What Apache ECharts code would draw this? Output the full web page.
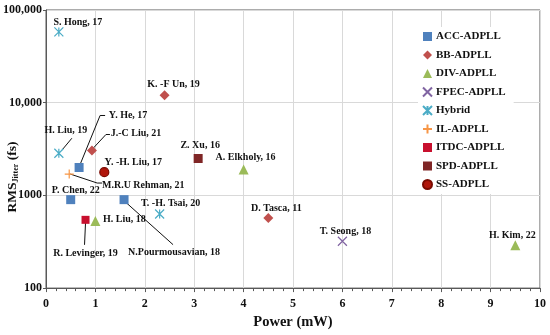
<!DOCTYPE html>
<html><head><meta charset="utf-8">
<script src="https://cdn.jsdelivr.net/npm/echarts@6/dist/echarts.min.js"></script>
<style>html,body{margin:0;padding:0;background:#fff}#c{width:550px;height:335px}</style>
</head><body><div id="c"></div>
<script>
const seriesNames = ['ACC-ADPLL','BB-ADPLL','DIV-ADPLL','FPEC-ADPLL','Hybrid','IL-ADPLL','ITDC-ADPLL','SPD-ADPLL','SS-ADPLL'];
const accX = [0.67, 0.5, 1.58];
const accY = [2000, 900, 900];
const accLabels = ['Y. He, 17', 'P. Chen, 22', 'N.Pourmousavian, 18'];
const bbX = [2.4, 0.93, 4.5];
const bbY = [12000, 3050, 570];
const bbLabels = ['K. -F Un, 19', 'J.-C Liu, 21', 'D. Tasca, 11'];
const divX = [4.0, 1.0, 9.5];
const divY = [1900, 530, 290];
const divLabels = ['A. Elkholy, 16', 'H. Liu, 18', 'H. Kim, 22'];
const fpecX = [6.0];
const fpecY = [320];
const fpecLabels = ['T. Seong, 18'];
const hybridX = [0.26, 0.26, 2.3];
const hybridY = [58000, 2850, 630];
const hybridLabels = ['S. Hong, 17', 'H. Liu, 19', 'T. -H. Tsai, 20'];
const ilX = [0.47];
const ilY = [1700];
const ilLabels = ['M.R.U Rehman, 21'];
const itdcX = [0.8];
const itdcY = [545];
const itdcLabels = ['R. Levinger, 19'];
const spdX = [3.08];
const spdY = [2500];
const spdLabels = ['Z. Xu, 16'];
const ssX = [1.18];
const ssY = [1780];
const ssLabels = ['Y. -H. Liu, 17'];
const xTicks = [0,1,2,3,4,5,6,7,8,9,10];
const yTickLabels = {100:'100', 1000:'1000', 10000:'10,000', 100000:'100,000'};

// label placement (offset of label centre from its marker, px)
const labelOffsets = {
  'S. Hong, 17': [19,-10], 'K. -F Un, 19': [9,-11], 'H. Liu, 19': [7,-23],
  'Y. He, 17': [49,-52], 'J.-C Liu, 21': [44,-17], 'Y. -H. Liu, 17': [29,-10],
  'M.R.U Rehman, 21': [74,11], 'P. Chen, 22': [5,-9], 'Z. Xu, 16': [2,-13],
  'A. Elkholy, 16': [2,-12], 'T. -H. Tsai, 20': [11,-11], 'D. Tasca, 11': [8,-10],
  'T. Seong, 18': [3,-10], 'H. Kim, 22': [-3,-10], 'H. Liu, 18': [29,-2],
  'R. Levinger, 19': [0,34], 'N.Pourmousavian, 18': [50,53]
};
// leader-line polylines, px offsets from the marker they point at
const leaderPaths = {
  'H. Liu, 19': [[3,-3],[13,-15]],
  'Y. He, 17': [[1,-3],[21,-52],[26,-52]],
  'J.-C Liu, 21': [[1,-2],[14,-16],[18,-16]],
  'M.R.U Rehman, 21': [[1,0],[28,9],[33,9]],
  'R. Levinger, 19': [[0,3],[-1,25]],
  'N.Pourmousavian, 18': [[1,2],[49,45]]
};

const FONT = 'Liberation Serif';
const styles = {
  'ACC-ADPLL': {symbol:'rect', size:9, color:'#4F81BD'},
  'BB-ADPLL': {symbol:'diamond', size:10, color:'#C0504D'},
  'DIV-ADPLL': {symbol:'triangle', size:10, color:'#9BBB59'},
  'FPEC-ADPLL': {symbol:'path://M0,0L10,10M10,0L0,10', size:9, color:'transparent', border:'#8064A2'},
  'Hybrid': {symbol:'path://M0,0L10,10M10,0L0,10M5,0L5,10', size:9, color:'transparent', border:'#4BACC6'},
  'IL-ADPLL': {symbol:'path://M5,0L5,10M0,5L10,5', size:9, color:'transparent', border:'#F79646'},
  'ITDC-ADPLL': {symbol:'rect', size:8, color:'#C8102E'},
  'SPD-ADPLL': {symbol:'rect', size:9, color:'#7F2626'},
  'SS-ADPLL': {symbol:'circle', size:9, color:'#B0160B', border:'#7A0A00'}
};
const groups = [
  [accX, accY, accLabels], [bbX, bbY, bbLabels], [divX, divY, divLabels],
  [fpecX, fpecY, fpecLabels], [hybridX, hybridY, hybridLabels], [ilX, ilY, ilLabels],
  [itdcX, itdcY, itdcLabels], [spdX, spdY, spdLabels], [ssX, ssY, ssLabels]
];

const series = seriesNames.map((name, i) => {
  const [xs, ys, labs] = groups[i];
  const st = styles[name];
  return {
    name, type: 'scatter', symbol: st.symbol, symbolSize: st.size, z: 3,
    itemStyle: {color: st.color, borderColor: st.border || st.color, borderWidth: st.border ? 1.2 : 0, opacity: 1},
    label: {show: true, position: 'inside', formatter: p => p.name, color: '#111',
            fontFamily: FONT, fontWeight: 'bold', fontSize: 10},
    labelLayout: p => { const o = labelOffsets[p.text] || [0,0]; return {dx: o[0], dy: o[1], hideOverlap: false}; },
    emphasis: {disabled: true},
    data: xs.map((x, k) => ({value: [x, ys[k]], name: labs[k]}))
  };
});

// leader lines anchored to the same data points, placed through the axes
const leaderData = [];
groups.forEach(([xs, ys, labs]) => labs.forEach((l, k) => {
  if (leaderPaths[l]) leaderData.push({value: [xs[k], ys[k]], name: l});
}));
series.push({
  type: 'custom', name: 'leaders', z: 2, silent: true, coordinateSystem: 'cartesian2d',
  data: leaderData,
  renderItem: (params, api) => {
    const p = api.coord([api.value(0), api.value(1)]);
    const segs = leaderPaths[leaderData[params.dataIndex].name];
    return {type: 'polyline', shape: {points: segs.map(o => [p[0] + o[0], p[1] + o[1]])},
            style: {stroke: '#111', fill: null, lineWidth: 1}};
  }
});

const chart = echarts.init(document.getElementById('c'), null, {renderer: 'canvas'});
chart.setOption({
  animation: false,
  backgroundColor: '#fff',
  grid: {left: 46, right: 10, top: 10, bottom: 40, show: true, borderColor: '#595959', borderWidth: 1, backgroundColor: 'transparent'},
  xAxis: {
    type: 'value', min: 0, max: 10, interval: 1,
    name: 'Power (mW)', nameLocation: 'middle', nameGap: 22,
    nameTextStyle: {fontFamily: FONT, fontWeight: 'bold', fontSize: 14.5, color: '#111'},
    axisLine: {show: true, lineStyle: {color: '#595959'}},
    axisTick: {show: true, length: 4, lineStyle: {color: '#595959'}},
    minorTick: {show: true, splitNumber: 5, length: 3, lineStyle: {color: '#595959'}},
    axisLabel: {fontFamily: FONT, fontWeight: 'bold', fontSize: 12, color: '#111', margin: 10,
                formatter: v => xTicks.includes(v) ? String(v) : ''},
    splitLine: {show: true, lineStyle: {color: '#D9D9D9'}}
  },
  yAxis: {
    type: 'log', logBase: 10, min: 100, max: 100000,
    axisLine: {show: true, lineStyle: {color: '#595959'}},
    axisTick: {show: true, length: 3, lineStyle: {color: '#595959'}},
    axisLabel: {fontFamily: FONT, fontWeight: 'bold', fontSize: 12, color: '#111', margin: 4,
                formatter: v => yTickLabels[Math.round(v)] || ''},
    splitLine: {show: true, lineStyle: {color: '#D9D9D9'}}
  },
  legend: {
    orient: 'vertical', left: 418, top: 27, data: seriesNames,
    itemWidth: 9, itemHeight: 9, itemGap: 7.5, padding: [4, 8, 4, 4],
    backgroundColor: '#fff',
    textStyle: {fontFamily: FONT, fontWeight: 'bold', fontSize: 11, color: '#111', padding: [0,0,0,-1]}
  },
  graphic: [{
    type: 'text', x: 13, y: 177, rotation: Math.PI / 2,
    style: {
      text: '{a|RMS}{b|Jitter}{a| (fs)}', align: 'center', verticalAlign: 'middle',
      rich: {
        a: {fontFamily: FONT, fontWeight: 'bold', fontSize: 13.5, fill: '#111', lineHeight: 16},
        b: {fontFamily: FONT, fontWeight: 'bold', fontSize: 8, fill: '#111', lineHeight: 16, padding: [6,0,0,0]}
      }
    }
  }],
  series
});
</script></body></html>
